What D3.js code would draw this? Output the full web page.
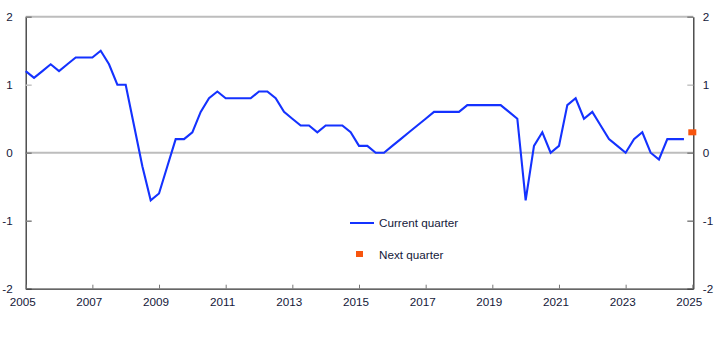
<!DOCTYPE html>
<html><head><meta charset="utf-8">
<script src="https://cdn.jsdelivr.net/npm/d3@7"></script>
<style>body{margin:0;background:#fff}svg{display:block;font-family:"Liberation Sans",Arial,sans-serif}</style>
</head><body><div id="c"></div>
<script>
// Quarterly data, 2005Q1 .. 2024Q4
const startYear = 2005;
const currentQuarter = [
  1.2,1.1,1.2,1.3, 1.2,1.3,1.4,1.4, 1.4,1.5,1.3,1.0, 1.0,0.4,-0.2,-0.7,
  -0.6,-0.2,0.2,0.2, 0.3,0.6,0.8,0.9, 0.8,0.8,0.8,0.8, 0.9,0.9,0.8,0.6,
  0.5,0.4,0.4,0.3, 0.4,0.4,0.4,0.3, 0.1,0.1,0.0,0.0, 0.1,0.2,0.3,0.4,
  0.5,0.6,0.6,0.6, 0.6,0.7,0.7,0.7, 0.7,0.7,0.6,0.5, -0.7,0.1,0.3,0.0,
  0.1,0.7,0.8,0.5, 0.6,0.4,0.2,0.1, 0.0,0.2,0.3,0.0, -0.1,0.2,0.2,0.2
];
const nextQuarter = [{t: 2025.0, v: 0.3}];
const xTicks = [2005,2007,2009,2011,2013,2015,2017,2019,2021,2023,2025];
const yTicks = [-2,-1,0,1,2];
const legendLabels = ["Current quarter","Next quarter"];

const W = 722, H = 341;
const FS = 11.7;
const svg = d3.select("#c").append("svg").attr("width",W).attr("height",H);
const x = d3.scaleLinear().domain([2005, 2025.03]).range([25.7, 693.3]);
const y = d3.scaleLinear().domain([-2, 2]).range([288.7, 16.7]);
const textCol = "#14193a";
const fmt = d => String(d);

// gridlines at 0 and 2
svg.append("g").selectAll("line").data([0,2]).join("line")
  .attr("x1", x.range()[0]).attr("x2", x.range()[1])
  .attr("y1", d=>y(d)).attr("y2", d=>y(d))
  .attr("stroke","#bdbdbd").attr("stroke-width",2);

// left / right axes
const left = svg.append("g").attr("transform",`translate(${x.range()[0]},0)`)
  .call(d3.axisLeft(y).tickValues(yTicks).tickFormat(fmt).tickSizeInner(-6).tickSizeOuter(0).tickPadding(13));
const right = svg.append("g").attr("transform",`translate(${x.range()[1]},0)`)
  .call(d3.axisRight(y).tickValues(yTicks).tickFormat(fmt).tickSizeInner(-6).tickSizeOuter(0).tickPadding(9.5));
[left,right].forEach(g=>{
  g.select(".domain").attr("stroke","#333").attr("stroke-width",1.3);
  g.selectAll(".tick line").attr("stroke",d=>d===1?"#c4c4c4":"#808080").attr("stroke-width",1.5);
  g.selectAll(".tick text").attr("fill",textCol).attr("font-size",FS).attr("font-family","Liberation Sans, Arial, sans-serif");
});

// bottom axis
const bottom = svg.append("g").attr("transform",`translate(0,${y.range()[0]})`)
  .call(d3.axisBottom(x).tickValues(xTicks).tickFormat(fmt).tickSizeInner(-4).tickSizeOuter(0).tickPadding(9.5));
bottom.select(".domain").attr("stroke","#333").attr("stroke-width",1.3);
bottom.selectAll(".tick line").attr("stroke","#777");
bottom.selectAll(".tick text").attr("fill",textCol).attr("font-size",FS).attr("dx",-3.5)
  .attr("font-family","Liberation Sans, Arial, sans-serif");

// line
const data = currentQuarter.map((v,i)=>({t:startYear+i/4, v}));
svg.append("path").datum(data)
  .attr("fill","none").attr("stroke","#1432ff").attr("stroke-width",2.1).attr("stroke-linejoin","miter")
  .attr("d", d3.line().x(d=>x(d.t)).y(d=>y(d.v)));

// next quarter marker
svg.append("g").selectAll("rect").data(nextQuarter).join("rect")
  .attr("x", d=>x(d.t)-4).attr("y", d=>y(d.v)-3).attr("width",8).attr("height",6)
  .attr("fill","#f7550e");

// legend
const lg = svg.append("g");
lg.append("line").attr("x1",350).attr("x2",374).attr("y1",223).attr("y2",223).attr("stroke","#1432ff").attr("stroke-width",2);
lg.append("text").attr("x",379).attr("y",227).text(legendLabels[0]).attr("fill",textCol).attr("font-size",FS);
lg.append("rect").attr("x",356).attr("y",251).attr("width",7).attr("height",6).attr("fill","#f7550e");
lg.append("text").attr("x",379).attr("y",258.5).text(legendLabels[1]).attr("fill",textCol).attr("font-size",FS);
</script></body></html>
